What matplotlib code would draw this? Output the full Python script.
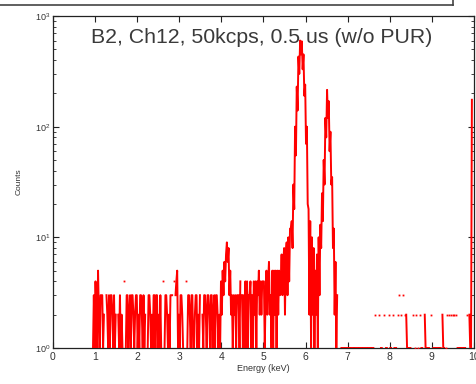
import numpy as np
import matplotlib
matplotlib.use("Agg")
import matplotlib.pyplot as plt
from matplotlib.lines import Line2D

BIN = 0.02        # keV per channel
N_CH = 500        # 0 .. 10 keV

# Counts, one digit per channel (noise region)
noise_1 = "1314215213" "3312003213" "1332131200" "2131210401" "3312313321"   # from 0.95 keV
noise_2 = "2331213321" "3120013321" "2133133121" "3104013321" "2133304034"   # from 1.95 keV
noise_3 = "5121332100" "4013321331" "1233121300" "2133213321" "3312313321"   # from 2.95 keV
noise_4 = "2142536479" "6835231323" "1333140313" "1414133413" "1424143524"   # from 3.95 keV
# rising shoulder before Mn K-alpha, from 4.95 keV
shoulder = [2, 4, 4, 4, 1, 3, 5, 2, 4, 6, 2, 3, 1, 5, 1, 5, 2, 5, 1, 5,
            2, 5, 3, 4, 7, 3, 6, 8, 2, 7, 9, 3, 10, 4, 12, 12]
# Mn K-alpha, from 5.67 keV
k_alpha = [14, 8, 30, 18, 100, 55, 230, 140, 430, 300, 600, 450, 590, 330,
           450, 190, 240, 70, 100, 20, 18]
# valley between the lines, from 6.09 keV
valley = [2, 14, 1, 10, 2, 8, 1, 5, 2, 7, 1, 10, 3, 13]
# Mn K-beta, from 6.37 keV
k_beta = [8, 25, 14, 50, 30, 120, 80, 215, 120, 170, 60, 90, 30, 35, 8, 12,
          2, 6, 1, 3]
# high-energy tail, digit per channel
tail_1 = "0001111011" "1111011101" "1110111101" "1111011110" "1102000020"   # from 6.79 keV
tail_2 = "1100201102" "0110201110" "2030203020" "2110110020" "1020102011"   # from 7.79 keV
tail_3 = "0021101100" "2011101110" "1102110102" "0202020202" "0111011101"   # from 8.79 keV
tail_4 = [1, 0, 2, 0, 0, 2, 1, 1, 175, 0, 0]                                 # from 9.79 keV

segments = [
    (0.95, noise_1), (1.95, noise_2), (2.95, noise_3), (3.95, noise_4),
    (4.95, shoulder), (5.67, k_alpha), (6.09, valley), (6.37, k_beta),
    (6.79, tail_1), (7.79, tail_2), (8.79, tail_3), (9.79, tail_4),
]

energy = 0.01 + BIN * np.arange(N_CH)
counts = np.zeros(N_CH)
for start, vals in segments:
    if isinstance(vals, str):
        vals = [int(c) for c in vals]
    i0 = int(round((start - 0.01) / BIN))
    counts[i0:i0 + len(vals)] = vals[:N_CH - i0]

y = np.where(counts > 0, counts, np.nan)    # empty channels break the line (log axis)
valid = ~np.isnan(y)
prev_ok = np.r_[False, valid[:-1]]
next_ok = np.r_[valid[1:], False]
lone = valid & ~prev_ok & ~next_ok

plt.rcParams["font.family"] = ["Liberation Sans", "DejaVu Sans"]
plt.rcParams["mathtext.default"] = "regular"
plt.rcParams["path.simplify"] = False     # keep every channel of the dense trace

fig = plt.figure(figsize=(4.77, 3.84), dpi=100)
ax = fig.add_axes([53 / 477, 36 / 384, 421 / 477, 332 / 384])

ax.plot(energy, y, color="#ff0000", lw=1.4, zorder=3)
ax.plot(energy[lone], y[lone], ls="none", marker="s", ms=1.3, mew=0,
        color="#ff0000", zorder=3)

ax.set_yscale("log")
ax.set_xlim(0, 10)
ax.set_ylim(1, 1000)
ax.set_xticks(range(11))
ax.tick_params(which="both", direction="in", top=True, right=True,
               colors="#222222", labelcolor="#333333")
ax.tick_params(which="major", length=4, width=0.8, labelsize=7.5, pad=3)
ax.tick_params(which="minor", length=2.5, width=0.6)
ax.tick_params(axis="y", which="major", labelsize=6.5, pad=2)
for s in ax.spines.values():
    s.set_color("#222222")
    s.set_linewidth(0.9)

ax.set_xlabel("Energy (keV)", fontsize=6.5, color="#333333", labelpad=1)
ax.set_ylabel("Counts", fontsize=6, color="#333333", labelpad=9)
ax.text(0.495, 0.919, "B2, Ch12, 50kcps, 0.5 us (w/o PUR)",
        transform=ax.transAxes, ha="center", va="baseline",
        fontsize=15.3, color="#3a3a3a", zorder=4)

# border of the caption box cut off at the top of the page
fig.add_artist(Line2D([0, 453 / 477], [1 - 5 / 384, 1 - 5 / 384],
                      transform=fig.transFigure, color="#444444", lw=1.2))
fig.add_artist(Line2D([453 / 477, 453 / 477], [1 - 5 / 384, 1.0],
                      transform=fig.transFigure, color="#444444", lw=1.2))

fig.savefig("out.png", dpi=100)
